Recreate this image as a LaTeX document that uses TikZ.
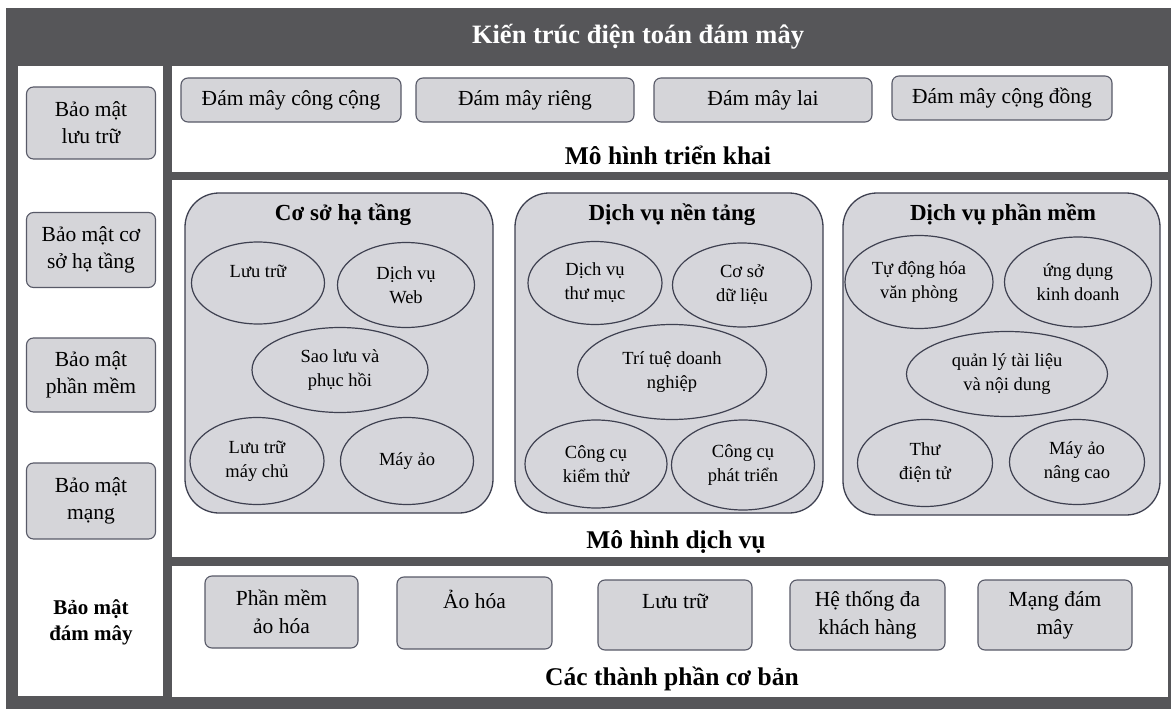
\documentclass[tikz,border=0pt]{standalone}
\usepackage{fontspec}
\setmainfont{Liberation Serif}
\usetikzlibrary{shapes.geometric}
\definecolor{frameGray}{RGB}{86,86,89}
\definecolor{boxGray}{RGB}{213,213,217}
\definecolor{boxLine}{RGB}{88,90,104}
\definecolor{contGray}{RGB}{214,214,219}
\definecolor{ellLine}{RGB}{62,64,80}
\tikzset{
  panel/.style={fill=white, draw=none, inner sep=0pt},
  gbox/.style={rectangle, rounded corners=7pt, fill=boxGray, draw=boxLine, line width=1.1pt, align=center, inner sep=0pt, font=\fontsize{21.5}{28}\selectfont},
  lbox/.style={gbox, font=\fontsize{21.5}{27}\selectfont},
  cont/.style={rectangle, rounded corners=34pt, fill=contGray, draw=ellLine, line width=1.3pt, inner sep=0pt},
  ell/.style={ellipse, fill=contGray, draw=ellLine, line width=1.2pt, inner sep=0pt, align=center, font=\fontsize{18.5}{24}\selectfont},
  sect/.style={font=\fontsize{25.5}{30}\selectfont\bfseries, align=center},
  ctitle/.style={font=\fontsize{23}{27}\selectfont\bfseries}
}
\begin{document}
\begin{tikzpicture}[x=1pt,y=-1pt]
\useasboundingbox (0,0) rectangle (1171,709);
\fill[white] (0,0) rectangle (1171,709);
% outer frame
\node[fill=frameGray, inner sep=0pt, minimum width=1165pt, minimum height=701pt, anchor=north west] (frame) at (6,8) {};
\node[font=\fontsize{26.5}{30}\selectfont\bfseries, text=white] (title) at (638,37) {Kiến trúc điện toán đám mây};
% panels
\node[panel, minimum width=145pt, minimum height=630pt, anchor=north west] (leftp) at (18,66) {};
\node[panel, minimum width=996pt, minimum height=106pt, anchor=north west] (topp) at (172,66) {};
\node[panel, minimum width=996pt, minimum height=377pt, anchor=north west] (midp) at (172,180) {};
\node[panel, minimum width=996pt, minimum height=131pt, anchor=north west] (botp) at (172,566) {};
% left security boxes
\node[lbox, minimum width=129pt, minimum height=72pt] (b1) at (91,123) {Bảo mật\\lưu trữ};
\node[lbox, minimum width=129pt, minimum height=75pt] (b2) at (91,250) {Bảo mật cơ\\sở hạ tầng};
\node[lbox, minimum width=129pt, minimum height=74pt] (b3) at (91,375) {Bảo mật\\phần mềm};
\node[lbox, minimum width=129pt, minimum height=76pt] (b4) at (91,501) {Bảo mật\\mạng};
\node[font=\fontsize{21}{26}\selectfont\bfseries, align=center] (bsec) at (91,622) {Bảo mật\\đám mây};
% deployment models
\node[gbox, minimum width=220pt, minimum height=44pt] (d1) at (291,100) {Đám mây công cộng};
\node[gbox, minimum width=218pt, minimum height=44pt] (d2) at (525,100) {Đám mây riêng};
\node[gbox, minimum width=218pt, minimum height=44pt] (d3) at (763,100) {Đám mây lai};
\node[gbox, minimum width=220pt, minimum height=44pt] (d4) at (1002,98) {Đám mây cộng đồng};
\node[sect] (dsec) at (668,155) {Mô hình triển khai};
% service models
\node[cont, minimum width=308pt, minimum height=320pt] (c1) at (339,353) {};
\node[cont, minimum width=308pt, minimum height=320pt] (c2) at (669,353) {};
\node[cont, minimum width=317pt, minimum height=322pt] (c3) at (1001.5,354) {};
\node[ctitle] (t1) at (343,215) {Cơ sở hạ tầng};
\node[ctitle] (t2) at (672,215) {Dịch vụ nền tảng};
\node[ctitle] (t3) at (1003,215) {Dịch vụ phần mềm};
% IaaS
\node[ell, minimum width=133pt, minimum height=82pt] (e11) at (258,283) {Lưu trữ\\\mbox{}};
\node[ell, minimum width=137pt, minimum height=85pt] (e12) at (406,285) {Dịch vụ\\Web};
\node[ell, minimum width=176pt, minimum height=85pt] (e13) at (340,370) {Sao lưu và\\phục hồi};
\node[ell, minimum width=134pt, minimum height=87pt] (e14) at (257,461) {Lưu trữ\\máy chủ};
\node[ell, minimum width=133pt, minimum height=87pt] (e15) at (407,461) {Máy ảo};
% PaaS
\node[ell, minimum width=134pt, minimum height=83pt] (e21) at (595,283) {Dịch vụ\\thư mục};
\node[ell, minimum width=139pt, minimum height=84pt] (e22) at (742,285) {Cơ sở\\dữ liệu};
\node[ell, minimum width=189pt, minimum height=95pt] (e23) at (672,372) {Trí tuệ doanh\\nghiệp};
\node[ell, minimum width=142pt, minimum height=88pt] (e24) at (596,464) {Công cụ\\kiểm thử};
\node[ell, minimum width=143pt, minimum height=90pt] (e25) at (743,465) {Công cụ\\phát triển};
% SaaS
\node[ell, minimum width=148pt, minimum height=93pt] (e31) at (919,282) {Tự động hóa\\văn phòng};
\node[ell, minimum width=147pt, minimum height=90pt] (e32) at (1078,282) {ứng dụng\\kinh doanh};
\node[ell, minimum width=201pt, minimum height=85pt] (e33) at (1007,374) {quản lý tài liệu\\và nội dung};
\node[ell, minimum width=135pt, minimum height=87pt] (e34) at (925,463) {Thư\\điện tử};
\node[ell, minimum width=135pt, minimum height=85pt] (e35) at (1077,462) {Máy ảo\\nâng cao};
\node[sect] (ssec) at (676,542) {Mô hình dịch vụ};
% basic components
\node[gbox, minimum width=153pt, minimum height=72pt] (k1) at (281.5,612) {Phần mềm\\ảo hóa};
\node[gbox, minimum width=155pt, minimum height=72pt] (k2) at (474.5,613) {Ảo hóa\\\mbox{}};
\node[gbox, minimum width=154pt, minimum height=70pt] (k3) at (675,615) {Lưu trữ\\\mbox{}};
\node[gbox, minimum width=155pt, minimum height=70pt] (k4) at (867.5,615) {Hệ thống đa\\khách hàng};
\node[gbox, minimum width=154pt, minimum height=70pt] (k5) at (1055,615) {Mạng đám\\mây};
\node[sect] (ksec) at (672,679) {Các thành phần cơ bản};
\end{tikzpicture}
\end{document}
